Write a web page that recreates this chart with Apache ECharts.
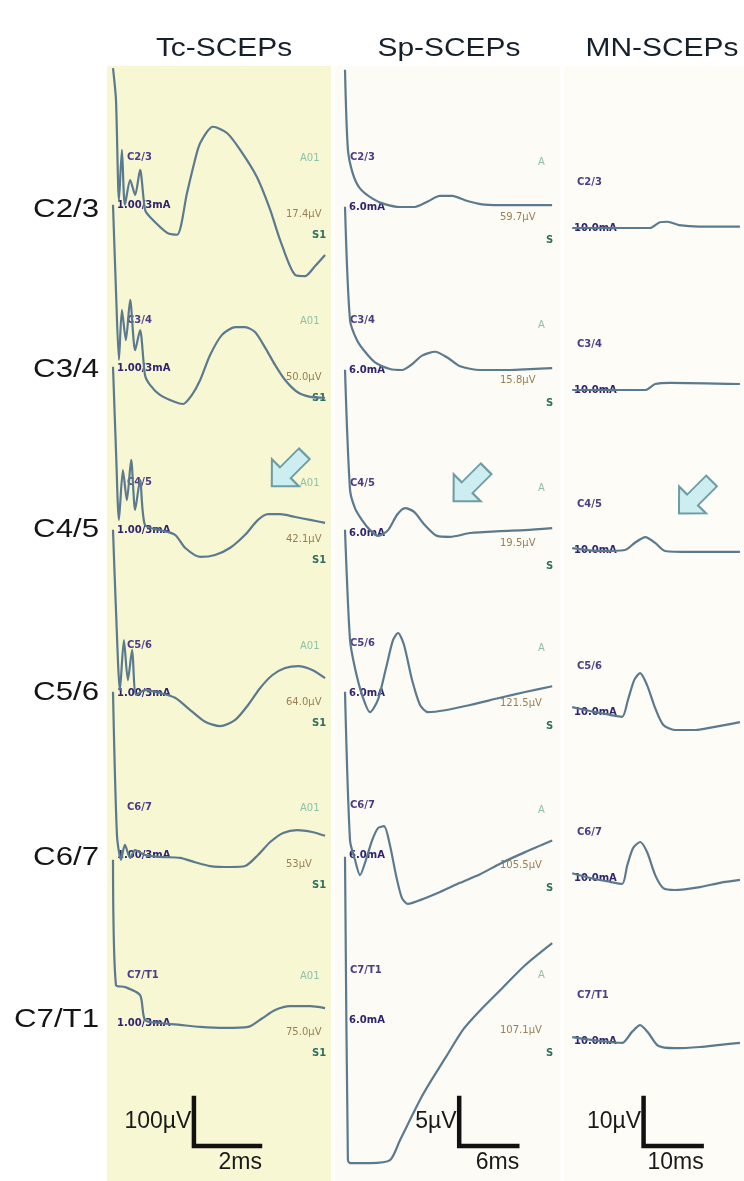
<!DOCTYPE html>
<html>
<head>
<meta charset="utf-8">
<script src="https://cdn.jsdelivr.net/npm/echarts@6/dist/echarts.min.js"></script>
<style>
html, body { margin: 0; padding: 0; background: #fff; }
#chart { width: 744px; height: 1181px; }
</style>
</head>
<body>
<div id="chart"></div>
<script>
const columns = ['Tc-SCEPs', 'Sp-SCEPs', 'MN-SCEPs']
const levels = ['C2/3', 'C3/4', 'C4/5', 'C5/6', 'C6/7', 'C7/T1']

// traces, [ms, µV]
const tcC23 = [[0,285],[0.09,219],[0.18,10],[0.27,115],[0.36,0],[0.52,52],[0.67,21],[0.82,73],[0.97,-10],[1.12,-25],[1.64,-58],[1.94,-62],[2.24,25],[2.45,85],[2.64,129],[3.03,163],[3.45,150],[3.85,115],[4.36,58],[4.76,-10],[5.06,-73],[5.52,-146],[5.82,-148],[6.12,-127],[6.42,-104]]
const tcC34 = [[0,340],[0.09,162],[0.18,17],[0.27,121],[0.39,58],[0.52,142],[0.67,37],[0.82,79],[0.97,-15],[1.12,-35],[1.42,-56],[1.88,-71],[2.12,-75],[2.39,-56],[2.64,-25],[2.94,27],[3.30,69],[3.70,85],[4.0,85],[4.30,75],[4.61,42],[4.91,6],[5.21,-25],[5.58,-50],[5.97,-60],[6.42,-62]]
const tcC45 = [[0,340],[0.09,167],[0.18,21],[0.30,125],[0.42,62],[0.55,146],[0.67,42],[0.82,104],[0.97,10],[1.42,0],[1.88,-10],[2.18,-37],[2.64,-56],[3.09,-52],[3.55,-37],[4.0,-10],[4.39,21],[4.70,33],[5.06,33],[5.52,27],[5.97,21],[6.42,15]]
const tcC56 = [[0,340],[0.09,173],[0.21,6],[0.33,110],[0.45,27],[0.58,90],[0.70,-4],[0.97,6],[1.42,0],[1.88,-10],[2.33,-35],[2.79,-60],[3.24,-69],[3.70,-56],[4.09,-25],[4.45,10],[4.82,37],[5.21,52],[5.61,56],[6.03,48],[6.42,31]]
const tcC67 = [[0,340],[0.12,42],[0.24,-10],[0.36,21],[0.52,-6],[0.67,10],[0.97,0],[1.42,-4],[2.03,-6],[2.48,-15],[2.94,-23],[3.55,-25],[4.0,-23],[4.39,0],[4.76,27],[5.15,46],[5.58,52],[6.03,48],[6.42,40]]
const tcC7T1 = [[0,340],[0.09,79],[0.36,75],[0.82,58],[0.97,6],[1.42,0],[2.03,-4],[2.64,-8],[3.39,-10],[4.09,-8],[4.52,10],[4.91,27],[5.36,35],[5.97,35],[6.42,31]]

const spC23 = [[0,14.3],[0.3,6.0],[0.8,3.5],[1.5,2.0],[2.8,0.9],[4.1,0.3],[5.7,0],[7.2,0],[8.6,0.6],[9.8,1.15],[11.1,1.15],[12.4,0.7],[14.0,0.3],[16.0,0.2],[21.4,0.2]]
const spC34 = [[0,17],[0.52,5.2],[1.24,3.1],[2.07,1.9],[3.1,0.8],[4.65,0.1],[5.89,0],[6.93,0.6],[7.96,1.5],[9.31,1.9],[10.65,1.25],[11.89,0.4],[13.96,0],[17.06,0],[19.13,0.1],[21.41,0.2]]
const spC45 = [[0,17],[0.52,4.5],[1.03,2.6],[1.76,1.35],[2.59,0.3],[3.41,-0.3],[4.45,0.3],[5.38,1.9],[6.2,2.6],[7.14,2.2],[8.27,0.8],[9.51,-0.3],[10.86,-0.4],[12.93,0],[16.03,0.2],[18.61,0.3],[21.41,0.5]]
const spC56 = [[0,17],[0.52,5.5],[1.03,2.6],[1.76,-0.2],[2.59,-2.0],[3.41,-0.7],[4.24,2.6],[4.96,5.5],[5.48,6.25],[6.10,5.0],[6.93,1.35],[7.76,-1.25],[8.58,-2.0],[10.34,-1.8],[12.93,-1.25],[16.03,-0.5],[18.61,0.1],[21.41,0.7]]
const spC67 = [[0,17],[0.52,1.5],[1.03,-0.5],[1.55,-2.1],[2.17,-0.5],[2.79,1.5],[3.41,2.8],[4.03,3.0],[4.65,1.0],[5.27,-2.1],[5.89,-4.5],[6.51,-5.1],[7.76,-4.7],[9.82,-3.85],[11.89,-2.9],[13.96,-2.0],[16.03,-0.9],[18.61,0.3],[21.41,1.5]]
const spC7T1 = [[0,17],[0.3,-14.6],[0.52,-14.9],[2.59,-14.9],[4.65,-14.6],[5.69,-12.5],[6.72,-10.4],[7.76,-8.3],[8.79,-6.5],[10.34,-4.0],[12.2,-1.0],[13.96,1.0],[16.03,3.1],[18.61,5.7],[21.41,8.0]]

const mnC23 = [[2.1,0],[7.0,0],[15.5,0],[17.2,1.2],[18.5,1.3],[20.5,0.6],[24.0,0.3],[31.0,0.3]]
const mnC34 = [[2.1,0],[14.7,0],[16.4,1.25],[19.0,1.5],[31.0,1.25]]
const mnC45 = [[2.1,0.4],[6.9,-0.2],[11.2,0],[12.9,1.5],[14.7,2.7],[16.4,1.5],[18.1,-0.2],[22.4,-0.4],[31.0,-0.4]]
const mnC56 = [[2.1,1.0],[5.2,0.2],[8.6,-0.6],[10.7,-1.0],[11.7,2.5],[12.8,6.7],[13.8,8.1],[15.0,5.6],[16.4,0.8],[17.8,-2.7],[19.8,-3.75],[23.3,-3.75],[26.7,-3.1],[31.0,-2.1]]
const mnC67 = [[2.1,1.0],[5.2,0],[8.6,-0.8],[10.7,-1.25],[11.6,2.7],[12.6,6.25],[13.8,7.5],[15.0,5.4],[16.4,0.6],[17.8,-2.1],[19.8,-2.5],[24.1,-1.9],[27.6,-1.0],[31.0,-0.4]]
const mnC7T1 = [[2.1,0.8],[6.9,0],[10.7,-0.4],[12.4,1.9],[13.8,3.3],[15.2,1.7],[16.9,-1.0],[19.8,-1.5],[24.1,-1.25],[27.6,-0.8],[31.0,-0.4]]

const traces = [
  [tcC23, tcC34, tcC45, tcC56, tcC67, tcC7T1],
  [spC23, spC34, spC45, spC56, spC67, spC7T1],
  [mnC23, mnC34, mnC45, mnC56, mnC67, mnC7T1]
]

// scale bars
const scaleUv = [100, 5, 10]
const scaleMs = [2, 6, 10]
const scaleUvLabels = ['100µV', '5µV', '10µV']
const scaleMsLabels = ['2ms', '6ms', '10ms']

// arrows at C4/5 [ms, µV]
const arrowAt = [[5.3, 125], [12.9, 5.0], [23.3, 11]]

// small recorder labels
const stimLabels = ['1.00/3mA', '6.0mA', '10.0mA']
const tcAmp = ['17.4µV', '50.0µV', '42.1µV', '64.0µV', '53µV', '75.0µV']
const spAmp = ['59.7µV', '15.8µV', '19.5µV', '121.5µV', '105.5µV', '107.1µV']

// layout
const gridTop = 65
const gridBottom = 1178
const barBase = 1146
const cols = [
  { left: 113, width: 218, xMax: 6.6, pxPerUv: 0.48, base: [205, 368, 530, 693, 855, 1023], barT: 2.45 },
  { left: 345, width: 210, xMax: 21.7, pxPerUv: 9.6, base: [207, 370, 533, 693, 855, 1020], barT: 11.8 },
  { left: 560, width: 184, xMax: 31.7, pxPerUv: 4.8, base: [228, 390, 550, 712, 878, 1041], barT: 14.4 }
]
const rowLabelY = [210, 370, 530, 693, 858, 1020]
const traceColor = '#5b7a8e'
const labelFont = 'Liberation Sans, Arial'
const arrowPath = 'path://M0,10 L10,0 L10,6 L24,6 L24,14 L10,14 L10,20 Z'

const grid = []
const xAxis = []
const yAxis = []
const series = []
const graphic = []

cols.forEach((c, ci) => {
  grid.push({ left: c.left, width: c.width, top: gridTop, height: gridBottom - gridTop })
  xAxis.push({ type: 'value', gridIndex: ci, min: 0, max: c.xMax, show: false })
  const bases = c.base.concat([barBase])
  bases.forEach((b) => {
    yAxis.push({
      type: 'value', gridIndex: ci, show: false,
      min: -(gridBottom - b) / c.pxPerUv,
      max: (b - gridTop) / c.pxPerUv
    })
  })
  traces[ci].forEach((data, ri) => {
    const s = {
      type: 'line',
      xAxisIndex: ci,
      yAxisIndex: ci * 7 + ri,
      data: data,
      showSymbol: false,
      smooth: 0.25,
      clip: false,
      silent: true,
      lineStyle: { color: traceColor, width: 2.2 }
    }
    if (ri === 2) {
      s.markPoint = {
        symbol: arrowPath,
        symbolSize: [46, 38],
        symbolRotate: 45,
        itemStyle: { color: '#cdeef0', borderColor: '#6d9ca4', borderWidth: 2 },
        label: { show: false },
        data: [{ coord: arrowAt[ci] }]
      }
    }
    series.push(s)
  })
  // scale bar
  series.push({
    type: 'line',
    xAxisIndex: ci,
    yAxisIndex: ci * 7 + 6,
    showSymbol: true,
    symbol: 'circle',
    symbolSize: 1,
    itemStyle: { color: 'rgba(0,0,0,0)' },
    clip: false,
    silent: true,
    lineStyle: { color: '#111', width: 4.5, cap: 'square', join: 'miter' },
    data: [
      { value: [c.barT, scaleUv[ci]], label: { show: true, position: 'left', distance: 2, offset: [0, 24], formatter: scaleUvLabels[ci], fontSize: 23, color: '#1a1a1a', fontFamily: labelFont } },
      { value: [c.barT, 0] },
      { value: [c.barT + scaleMs[ci], 0], label: { show: true, position: 'bottom', align: 'right', distance: 5, offset: [2, 0], formatter: scaleMsLabels[ci], fontSize: 23, color: '#1a1a1a', fontFamily: labelFont } }
    ]
  })
})

// backgrounds
graphic.push({ type: 'rect', z: -10, shape: { x: 107, y: 66, width: 224, height: 1115 }, style: { fill: '#f8f7d3' } })
graphic.push({ type: 'rect', z: -10, shape: { x: 335, y: 66, width: 225, height: 1115 }, style: { fill: '#fdfbf5' } })
graphic.push({ type: 'rect', z: -10, shape: { x: 564, y: 66, width: 180, height: 1115 }, style: { fill: '#fdfcf6' } })

// column titles
const titleX = [224, 449, 662]
columns.forEach((t, i) => {
  graphic.push({ type: 'text', x: titleX[i], y: 49, scaleX: 1.15, style: { text: t, fill: '#15202a', font: '26px ' + labelFont, textAlign: 'center', textVerticalAlign: 'middle' } })
})
// level labels
levels.forEach((t, i) => {
  graphic.push({ type: 'text', x: 99, y: rowLabelY[i], scaleX: 1.2, style: { text: t, fill: '#151515', font: '26px ' + labelFont, textAlign: 'right', textVerticalAlign: 'middle' } })
})

// recorder annotations
const chanX = [127, 350, 577]
const chanDy = [-48, -50, -46]
const stimX = [117, 349, 574]
cols.forEach((c, ci) => {
  c.base.forEach((b, ri) => {
    graphic.push({ type: 'text', x: chanX[ci], y: b + chanDy[ci], style: { text: levels[ri], fill: '#4b3c86', font: 'bold 10px DejaVu Sans', textVerticalAlign: 'middle' } })
    graphic.push({ type: 'text', x: stimX[ci], y: b, style: { text: stimLabels[ci], fill: '#2e2470', font: 'bold 10px DejaVu Sans', textVerticalAlign: 'middle' } })
    if (ci === 0) {
      graphic.push({ type: 'text', x: 286, y: b + 9, style: { text: tcAmp[ri], fill: '#9a7f55', font: '10px DejaVu Sans', textVerticalAlign: 'middle' } })
      graphic.push({ type: 'text', x: 300, y: b - 47, style: { text: 'A01', fill: '#8fc0a8', font: '10px DejaVu Sans', textVerticalAlign: 'middle' } })
      graphic.push({ type: 'text', x: 312, y: b + 30, style: { text: 'S1', fill: '#2f6f5e', font: 'bold 10px DejaVu Sans', textVerticalAlign: 'middle' } })
    }
    if (ci === 1) {
      graphic.push({ type: 'text', x: 500, y: b + 10, style: { text: spAmp[ri], fill: '#9a7f55', font: '10px DejaVu Sans', textVerticalAlign: 'middle' } })
      graphic.push({ type: 'text', x: 538, y: b - 45, style: { text: 'A', fill: '#8fc0a8', font: '10px DejaVu Sans', textVerticalAlign: 'middle' } })
      graphic.push({ type: 'text', x: 546, y: b + 33, style: { text: 'S', fill: '#2f6f5e', font: 'bold 10px DejaVu Sans', textVerticalAlign: 'middle' } })
    }
  })
})

const chart = echarts.init(document.getElementById('chart'))
chart.setOption({
  backgroundColor: '#ffffff',
  animation: false,
  grid: grid,
  xAxis: xAxis,
  yAxis: yAxis,
  series: series,
  graphic: graphic
})
</script>
</body>
</html>
